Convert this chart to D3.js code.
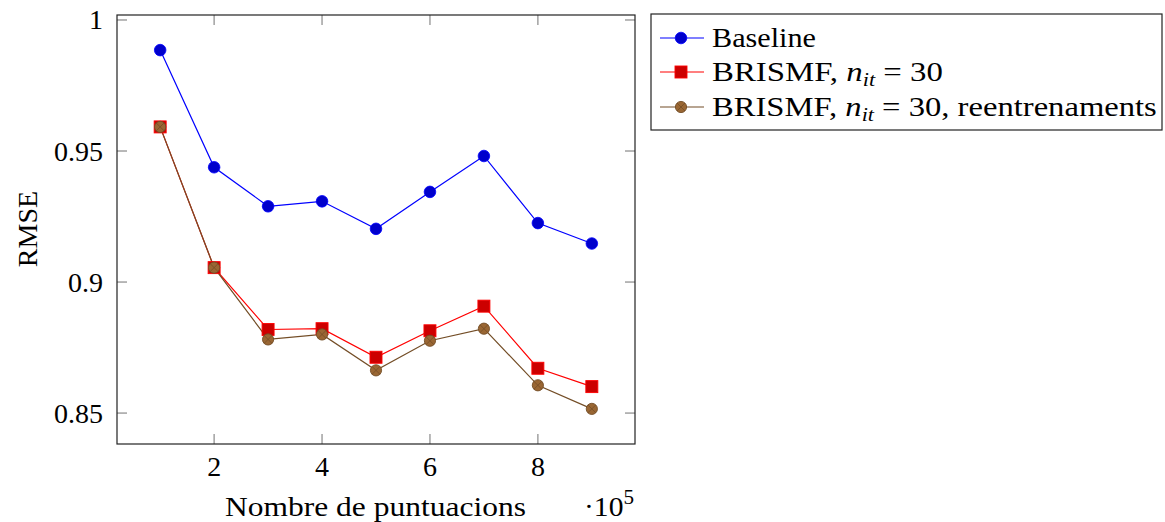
<!DOCTYPE html>
<html><head><meta charset="utf-8">
<script src="https://cdn.jsdelivr.net/npm/d3@7/dist/d3.min.js"></script>
<style>
body{margin:0;background:#fff;}
text{font-family:"Liberation Serif","Times New Roman",serif;fill:#000;}
</style></head>
<body><svg id="c" width="1165" height="522"></svg>
<script>
const xs = [1,2,3,4,5,6,7,8,9];
const baseline = [0.9885,0.9438,0.9289,0.9308,0.9203,0.9344,0.9481,0.9225,0.9147];
const brismf = [0.9592,0.9055,0.8819,0.8822,0.8713,0.8814,0.8908,0.8671,0.8601];
const brismfRe = [0.9592,0.9055,0.8781,0.8800,0.8663,0.8776,0.8822,0.8606,0.8516];
const xTicks = [2,4,6,8];
const yTicks = [0.85,0.9,0.95,1];
const yTickLabels = ["0.85","0.9","0.95","1"];

const svg = d3.select("#c");
const L=117,R=635,T=15,B=444;
const x = d3.scaleLinear().domain([0.2,9.8]).range([L,R]);
const y = d3.scaleLinear().domain([0.8382,1.0019]).range([B,T]);
const FS = 28;

function fit(sel, w){
  const n = sel.node();
  const bw = n.getBBox().width;
  const ox = +sel.attr("x");
  const s = w/bw;
  sel.attr("transform",`translate(${ox},0) scale(${s},1) translate(${-ox},0)`);
}

const tickCol="#9a9a9a", tl=10;
const g = svg.append("g");
xTicks.forEach(t=>{
  g.append("line").attr("x1",x(t)).attr("x2",x(t)).attr("y1",B).attr("y2",B-tl).attr("stroke",tickCol).attr("stroke-width",1.4);
  g.append("line").attr("x1",x(t)).attr("x2",x(t)).attr("y1",T).attr("y2",T+tl).attr("stroke",tickCol).attr("stroke-width",1.4);
  g.append("text").attr("x",x(t)).attr("y",476).attr("text-anchor","middle").attr("font-size",FS).text(t);
});
yTicks.forEach((t,i)=>{
  g.append("line").attr("x1",L).attr("x2",L+tl).attr("y1",y(t)).attr("y2",y(t)).attr("stroke",tickCol).attr("stroke-width",1.4);
  g.append("line").attr("x1",R).attr("x2",R-tl).attr("y1",y(t)).attr("y2",y(t)).attr("stroke",tickCol).attr("stroke-width",1.4);
  g.append("text").attr("x",103).attr("y",y(t)+9.5).attr("text-anchor","end").attr("font-size",FS).text(yTickLabels[i]);
});
svg.append("rect").attr("x",L).attr("y",T).attr("width",R-L).attr("height",B-T).attr("fill","none").attr("stroke","#222").attr("stroke-width",1.2);

const series = [
  {vals:baseline, line:"#0000ff", fill:"#0000cc", stroke:"#0000ff", mark:"circle"},
  {vals:brismf, line:"#ff0000", fill:"#cc0000", stroke:"#ff0000", mark:"square"},
  {vals:brismfRe, line:"#734d26", fill:"#996633", stroke:"#734d26", mark:"otimes"}
];
const lineGen = d3.line().x(d=>x(d[0])).y(d=>y(d[1]));
function drawMark(gg, cx, cy, s){
  if(s.mark==="circle"){
    gg.append("circle").attr("cx",cx).attr("cy",cy).attr("r",5.8).attr("fill",s.fill).attr("stroke",s.stroke).attr("stroke-width",0.8);
  } else if(s.mark==="square"){
    gg.append("rect").attr("x",cx-6).attr("y",cy-6).attr("width",12).attr("height",12).attr("fill",s.fill).attr("stroke",s.stroke).attr("stroke-width",0.9);
  } else {
    const r=5.6;
    gg.append("circle").attr("cx",cx).attr("cy",cy).attr("r",r).attr("fill",s.fill).attr("stroke",s.stroke).attr("stroke-width",0.9);
    const d=r*0.707;
    gg.append("path").attr("d",`M${cx-d},${cy-d}L${cx+d},${cy+d}M${cx-d},${cy+d}L${cx+d},${cy-d}`).attr("stroke",s.stroke).attr("stroke-width",0.8);
  }
}
series.forEach(s=>{
  const pts = xs.map((v,i)=>[v,s.vals[i]]);
  svg.append("path").attr("d",lineGen(pts)).attr("fill","none").attr("stroke",s.line).attr("stroke-width",1.2);
});
series.forEach(s=>{
  const gg = svg.append("g");
  xs.forEach((v,i)=>drawMark(gg, x(v), y(s.vals[i]), s));
});

const xl = svg.append("text").attr("x",225).attr("y",516).attr("font-size",FS).text("Nombre de puntuacions");
fit(xl, 301);
const ex = svg.append("text").attr("x",584).attr("y",516).attr("font-size",FS);
ex.append("tspan").text("·10");
ex.append("tspan").attr("dy",-12).attr("font-size",20).text("5");
fit(ex, 50);
svg.append("text").attr("transform","translate(37,229) rotate(-90)").attr("text-anchor","middle").attr("font-size",FS).text("RMSE");

svg.append("rect").attr("x",651).attr("y",14).attr("width",511).attr("height",116).attr("fill","#fff").attr("stroke","#222").attr("stroke-width",1.2);
const legRows = [
  {s:series[0], y:38, parts:[["Baseline"]], w:104},
  {s:series[1], y:72, parts:[["BRISMF, "],["n","i"],["it","sub"],[" = 30"]], w:231},
  {s:series[2], y:107, parts:[["BRISMF, "],["n","i"],["it","sub"],[" = 30, reentrenaments"]], w:445}
];
legRows.forEach(r=>{
  svg.append("line").attr("x1",660).attr("x2",704).attr("y1",r.y).attr("y2",r.y).attr("stroke",r.s.line).attr("stroke-width",1.2);
  drawMark(svg.append("g"),681,r.y,r.s);
  const t = svg.append("text").attr("x",712).attr("y",r.y+9).attr("font-size",FS);
  let sub=false;
  r.parts.forEach(p=>{
    const ts = t.append("tspan").text(p[0]);
    if(p[1]==="i"){ ts.attr("font-style","italic"); if(sub){ts.attr("dy",-5);sub=false;} }
    else if(p[1]==="sub"){ ts.attr("font-style","italic").attr("font-size",19).attr("dy",5); sub=true; }
    else { if(sub){ts.attr("dy",-5); sub=false;} }
  });
  fit(t, r.w);
});
</script></body></html>
